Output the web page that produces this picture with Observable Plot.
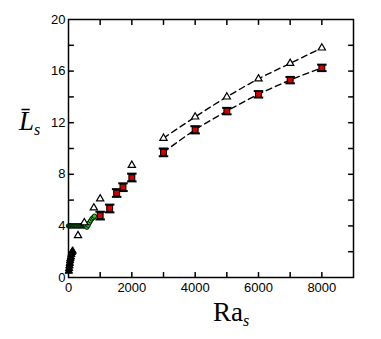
<!DOCTYPE html>
<html><head><meta charset="utf-8">
<script src="https://cdn.jsdelivr.net/npm/d3@7"></script>
<script src="https://cdn.jsdelivr.net/npm/@observablehq/plot@0.6"></script>
<style>body{margin:0;background:#fff}</style>
</head><body><div id="chart"></div>
<script>
// open triangles
const triX = [300, 500, 800, 1000, 2000, 3000, 4000, 5000, 6000, 7000, 8000];
const triY = [3.25, 4.25, 5.4, 6.1, 8.7, 10.8, 12.45, 14.0, 15.4, 16.6, 17.8];
// red squares with error bars
const sqX = [1000, 1300, 1520, 1720, 2000, 3000, 4000, 5000, 6000, 7000, 8000];
const sqY = [4.8, 5.35, 6.55, 7.0, 7.75, 9.7, 11.45, 12.9, 14.2, 15.3, 16.25];
const sqErr = [0.3, 0.3, 0.3, 0.3, 0.3, 0.3, 0.28, 0.25, 0.25, 0.25, 0.25];
// green circles
const greenX = [0, 30, 60, 90, 120, 150, 180, 210, 240, 270, 300, 330, 360, 390, 420, 450, 480, 510, 540, 580, 620, 660, 700, 740, 780, 820];
const greenY = [4.0, 4.0, 4.0, 4.0, 4.0, 4.0, 4.0, 4.0, 4.0, 4.0, 4.0, 4.0, 4.0, 4.0, 4.0, 4.0, 4.0, 4.0, 4.0, 3.9, 4.05, 4.25, 4.4, 4.55, 4.65, 4.75];
// filled black triangles near origin
const lowX = [10, 20, 30, 40, 50, 60, 75, 90, 110, 130];
const lowY = [0.5, 0.7, 0.9, 1.1, 1.3, 1.45, 1.6, 1.8, 1.95, 2.05];
// ticks
const xLabelTicks = [0, 2000, 4000, 6000, 8000];
const xAllTicks = [1000, 2000, 3000, 4000, 5000, 6000, 7000, 8000];
const yLabelTicks = [0, 4, 8, 12, 16, 20];
const yAllTicks = [2, 4, 6, 8, 10, 12, 14, 16, 18];
const xMax = 9000, yMax = 20;
const xTickLen = 170, yTickLen = 0.42;

const tri = triX.map((x, i) => ({x, y: triY[i]}));
const sq = sqX.map((x, i) => ({x, y: sqY[i], e: sqErr[i]}));
const green = greenX.map((x, i) => ({x, y: greenY[i]}));
const low = lowX.map((x, i) => ({x, y: lowY[i]}));
const triFit = tri.filter(d => d.x >= 3000);
const sqFit = sq.filter(d => d.x >= 3000);
const capHalf = 150;
const caps = sq.flatMap(d => [{x: d.x, y: d.y - d.e}, {x: d.x, y: d.y + d.e}]);
const xTickRows = xAllTicks.flatMap(v => [{x: v, y1: 0, y2: yTickLen}, {x: v, y1: yMax - yTickLen, y2: yMax}]);
const yTickRows = yAllTicks.flatMap(v => [{y: v, x1: 0, x2: xTickLen}, {y: v, x1: xMax - xTickLen, x2: xMax}]);

const plot = Plot.plot({
  width: 381, height: 339,
  marginLeft: 68, marginRight: 28, marginTop: 19, marginBottom: 62,
  x: {domain: [0, xMax]},
  y: {domain: [0, yMax]},
  style: {fontFamily: "'Liberation Sans', Arial, sans-serif", fontSize: "13px"},
  marks: [
    Plot.frame({stroke: "black", strokeWidth: 1.5}),
    Plot.axisX({anchor: "bottom", ticks: xLabelTicks, tickSize: 0, tickPadding: 5, label: null, tickFormat: d => String(d)}),
    Plot.axisY({anchor: "left", ticks: yLabelTicks, tickSize: 0, tickPadding: 3, label: null, tickFormat: d => String(d)}),
    Plot.link(xTickRows, {x1: "x", x2: "x", y1: "y1", y2: "y2", stroke: "black", strokeWidth: 1.5}),
    Plot.link(yTickRows, {x1: "x1", x2: "x2", y1: "y", y2: "y", stroke: "black", strokeWidth: 1.5}),
    Plot.line(triFit, {x: "x", y: "y", stroke: "black", strokeWidth: 1.4, strokeDasharray: "6,4", curve: "monotone-x"}),
    Plot.line(sqFit, {x: "x", y: "y", stroke: "black", strokeWidth: 1.4, strokeDasharray: "6,4", curve: "monotone-x"}),
    Plot.dot(low, {x: "x", y: "y", symbol: "triangle", r: 2.8, fill: "black", stroke: "black", strokeWidth: 1}),
    Plot.dot(green, {x: "x", y: "y", symbol: "circle", r: 2.2, fill: "#22d022", stroke: "black", strokeWidth: 0.9}),
    Plot.link(sq, {x1: "x", x2: "x", y1: d => d.y - d.e, y2: d => d.y + d.e, stroke: "black", strokeWidth: 1.4}),
    Plot.link(caps, {x1: d => d.x - capHalf, x2: d => d.x + capHalf, y1: "y", y2: "y", stroke: "black", strokeWidth: 2}),
    Plot.dot(sq, {x: "x", y: "y", symbol: "square", r: 3.3, fill: "#d40000", stroke: "black", strokeWidth: 1.1}),
    Plot.dot(tri, {x: "x", y: "y", symbol: "triangle", r: 2.7, fill: "white", stroke: "black", strokeWidth: 1.2})
  ]
});
document.getElementById("chart").appendChild(plot);
const svg = d3.select(plot);
const serif = "'Liberation Serif', 'DejaVu Serif', serif";
const xl = svg.append("text").attr("x", 213).attr("y", 321).attr("text-anchor", "start").style("font-family", serif).style("font-size", "27px").attr("fill", "black");
xl.append("tspan").text("Ra");
xl.append("tspan").attr("dy", 5).style("font-size", "16px").style("font-style", "italic").text("s");
const yl = svg.append("text").attr("x", 19).attr("y", 130).attr("text-anchor", "start").style("font-family", serif).style("font-size", "27px").style("font-style", "italic").attr("fill", "black");
yl.append("tspan").text("L\u0304");
yl.append("tspan").attr("dy", 5).style("font-size", "16px").text("s");
</script>
</body></html>
